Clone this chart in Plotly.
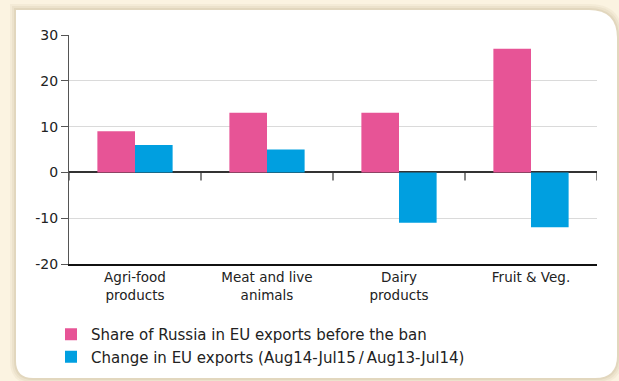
import plotly.graph_objects as go

# Russian import ban: EU agri-food exports
categories = ["Agri-food<br>products", "Meat and live<br>animals", "Dairy<br>products", "Fruit & Veg."]
share_russia = [9, 13, 13, 27]
change_exports = [6, 5, -11, -12]
series_names = [
    "Share of Russia in EU exports before the ban",
    "Change in EU exports (Aug14-Jul15\u2009/\u2009Aug13-Jul14)",
]
y_ticks = [-20, -10, 0, 10, 20, 30]
y_tick_labels = ["-20", "-10", "0", "10", "20", "30"]

PINK = "#e75496"
BLUE = "#009fe0"
CREAM = "#fbf3e1"
FONT = "DejaVu Sans"

W, H = 619, 381
ML, MR, MT, MB = 69, 22, 35, 117
PW, PH = W - ML - MR, H - MT - MB


def px(x):
    return (x - ML) / PW


def py(y):
    return (H - MB - y) / PH


def panel_path(l, t, r, b, r_tr, r_br, r_bl):
    return (
        f"M {px(l)},{py(t)} "
        f"L {px(r - r_tr)},{py(t)} "
        f"Q {px(r)},{py(t)} {px(r)},{py(t + r_tr)} "
        f"L {px(r)},{py(b - r_br)} "
        f"Q {px(r)},{py(b)} {px(r - r_br)},{py(b)} "
        f"L {px(l + r_bl)},{py(b)} "
        f"Q {px(l)},{py(b)} {px(l)},{py(b - r_bl)} Z"
    )


fig = go.Figure()
fig.add_trace(go.Bar(x=categories, y=share_russia, name=series_names[0],
                     marker=dict(color=PINK, line=dict(width=0))))
fig.add_trace(go.Bar(x=categories, y=change_exports, name=series_names[1],
                     marker=dict(color=BLUE, line=dict(width=0))))

shapes = []
# soft shadow around the white card
for i, op in enumerate([0.10, 0.13, 0.18]):
    g = 6 - 2 * i
    shapes.append(dict(type="path", xref="paper", yref="paper", layer="below",
                       path=panel_path(16 - g, 10 - g, 617 + g, 378 + g, 28 + g, 22 + g, 17 + g),
                       fillcolor="#b9a781", opacity=op, line=dict(width=0)))
shapes.append(dict(type="path", xref="paper", yref="paper", layer="below",
                   path=panel_path(16, 10, 617, 378, 28, 22, 17),
                   fillcolor="white", line=dict(width=0)))

# category boundary ticks hanging below the zero line
for i in range(len(categories) + 1):
    shapes.append(dict(type="line", xref="x", yref="y", ysizemode="pixel", yanchor=0,
                       x0=i - 0.5, x1=i - 0.5, y0=0, y1=-8,
                       line=dict(color="#333333", width=1.2)))

fig.update_layout(
    width=W, height=H,
    margin=dict(l=ML, r=MR, t=MT, b=MB, autoexpand=False),
    paper_bgcolor=CREAM,
    plot_bgcolor="rgba(0,0,0,0)",
    barmode="group",
    bargap=0.43,
    bargroupgap=0,
    font=dict(family=FONT, size=14, color="#222222"),
    shapes=shapes,
    showlegend=True,
    legend=dict(
        x=px(51), y=py(318), xanchor="left", yanchor="top",
        orientation="v", bgcolor="rgba(0,0,0,0)",
        font=dict(family=FONT, size=15, color="#222222"),
        tracegroupgap=0, itemsizing="constant",
    ),
)

fig.update_xaxes(
    showline=True, linecolor="#111111", linewidth=1.5,
    ticks="", showgrid=False, zeroline=False,
    range=[-0.5, len(categories) - 0.5],
    tickfont=dict(family=FONT, size=13.5, color="#222222"),
)
fig.update_yaxes(
    range=[y_ticks[0], y_ticks[-1]], tickvals=y_ticks, ticktext=y_tick_labels,
    showline=True, linecolor="#555555", linewidth=1.2,
    ticks="outside", ticklen=7, tickcolor="#555555", tickwidth=1.2,
    showgrid=True, gridcolor="#dadada", gridwidth=1.2,
    zeroline=True, zerolinecolor="#333333", zerolinewidth=1.5,
    tickfont=dict(family=FONT, size=14, color="#222222"),
)

fig.write_html("out.html")
